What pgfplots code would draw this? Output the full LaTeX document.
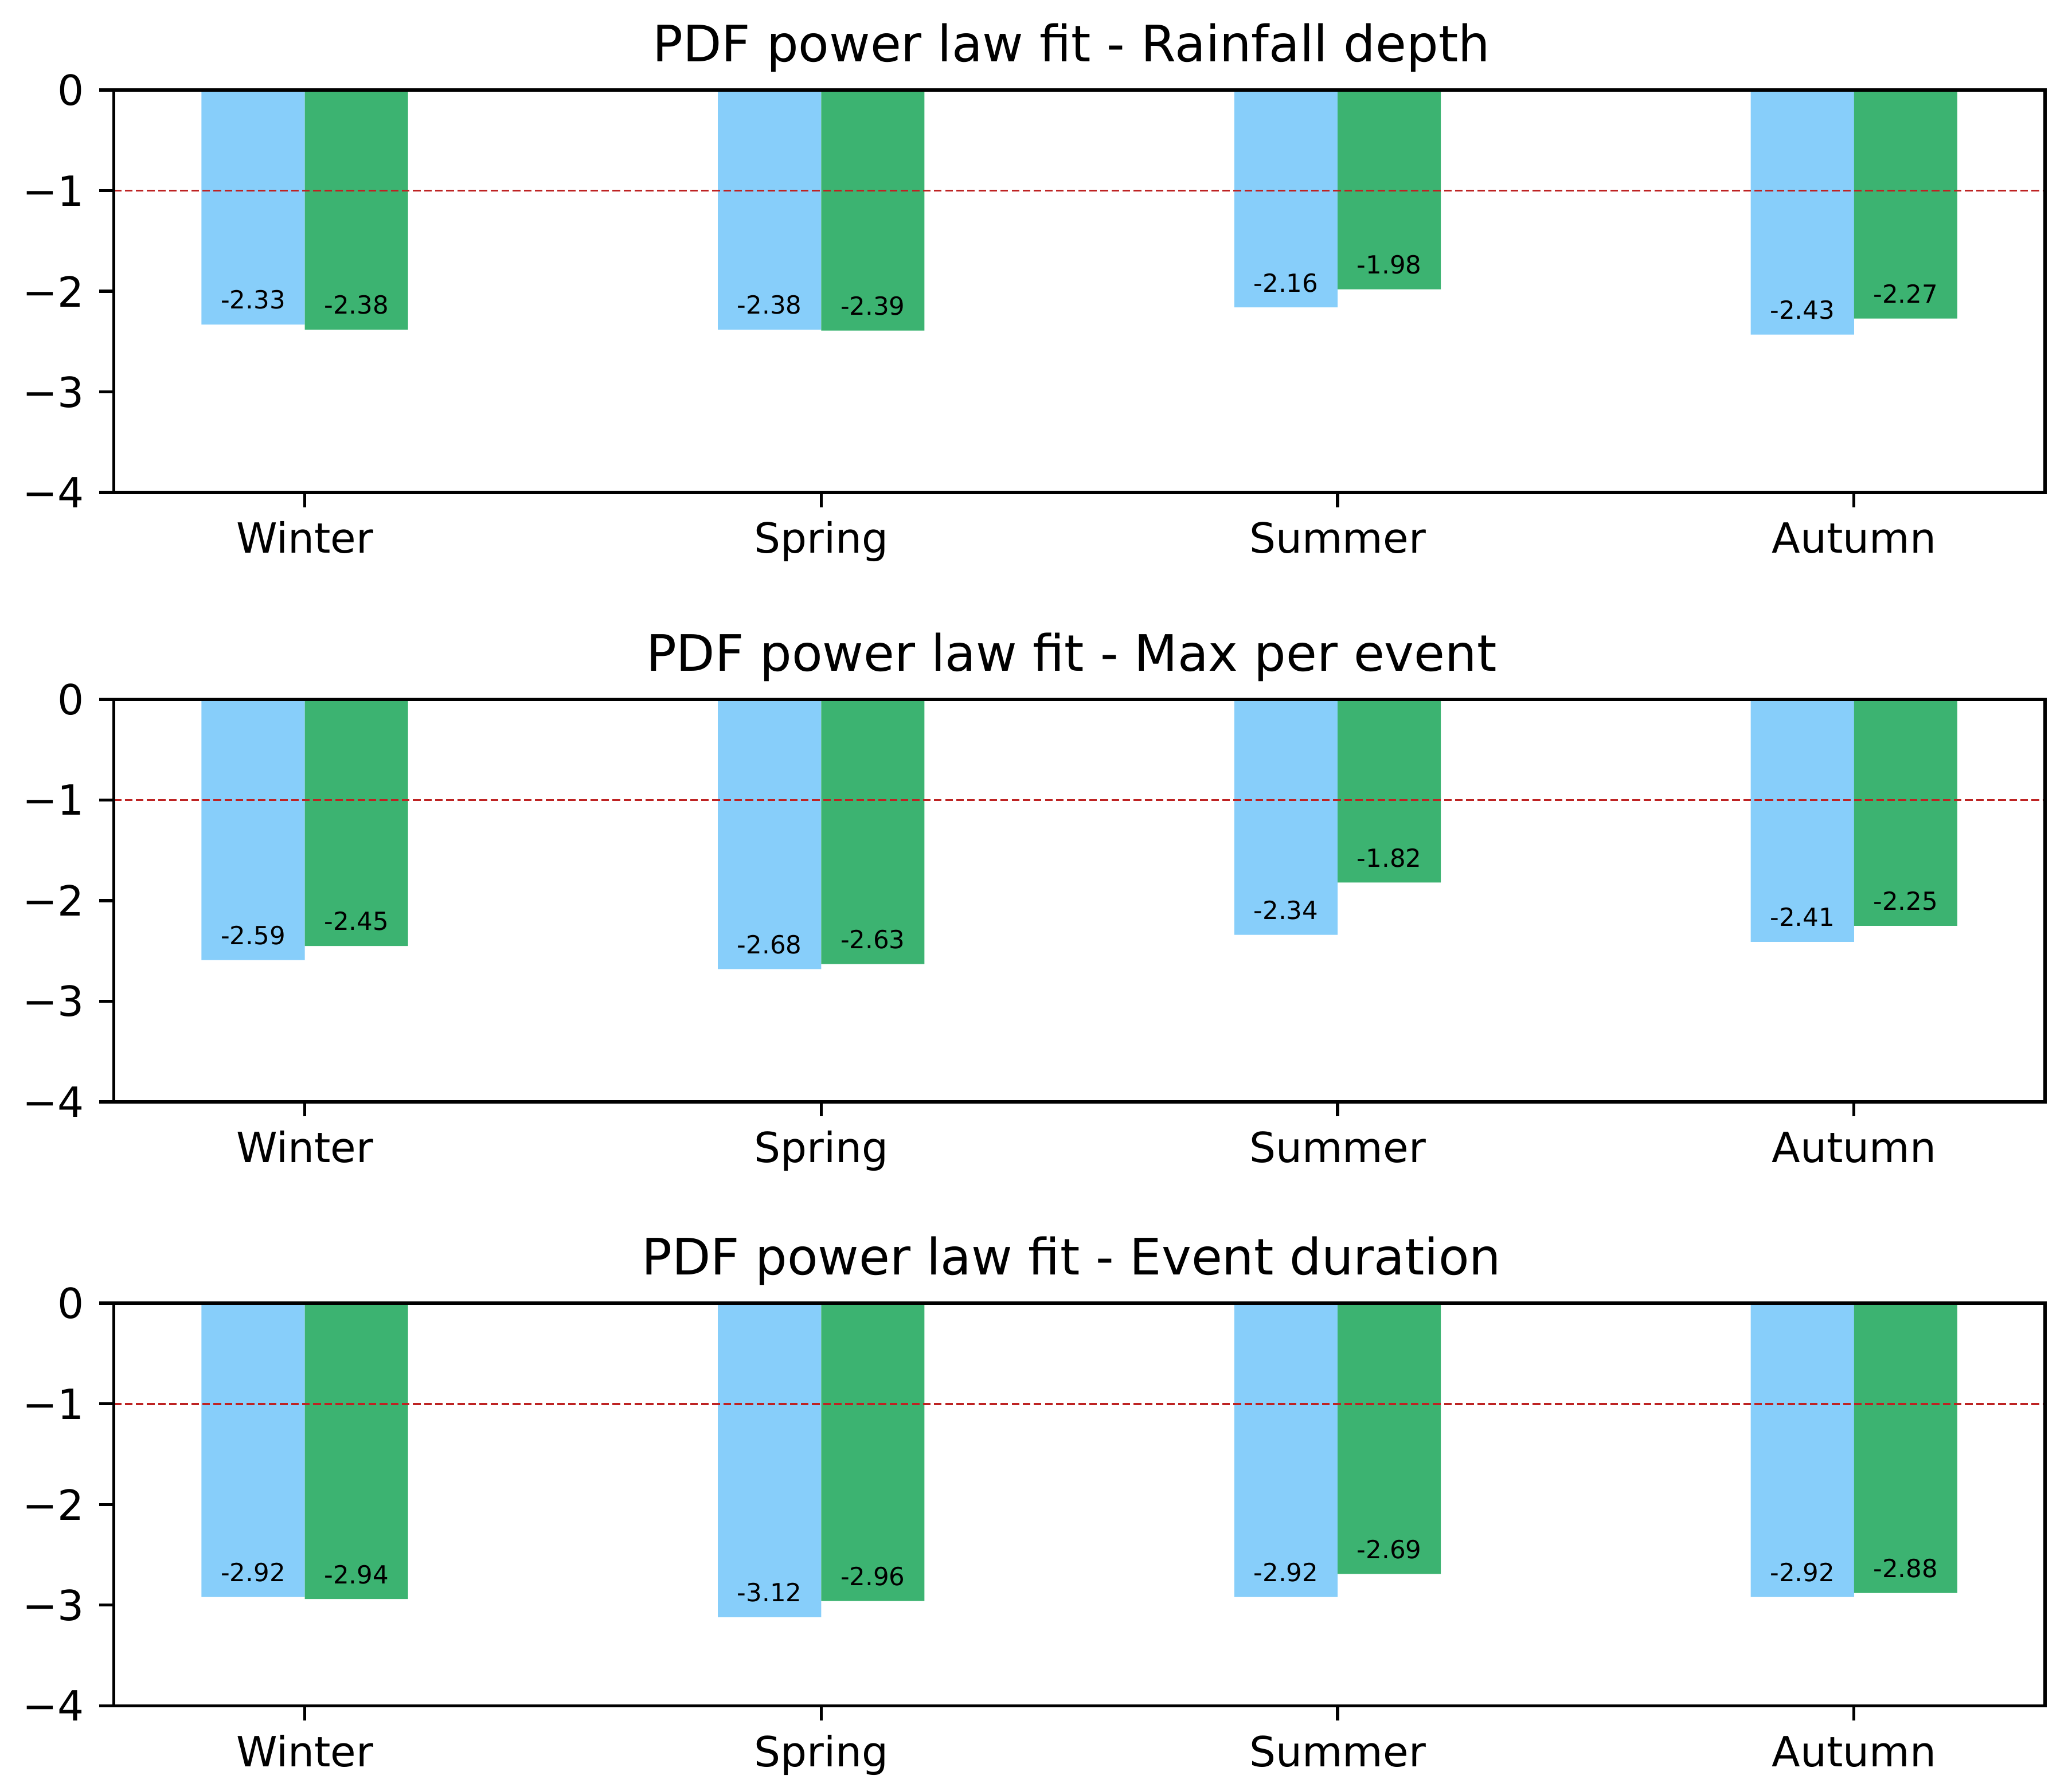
\documentclass[border=0pt]{standalone}
\usepackage{fontspec}
\setmainfont{DejaVu Sans}
\usepackage{pgfplots}
\usepackage{pgfplotstable}
\pgfplotsset{compat=1.18}

\definecolor{skyb}{HTML}{87CEFA}
\definecolor{seag}{HTML}{3CB371}
\definecolor{refred}{RGB}{190,35,35}

% x = season index, b = blue bars, g = green bars
\pgfplotstableread{
x b g
0 -2.33 -2.38
1 -2.38 -2.39
2 -2.16 -1.98
3 -2.43 -2.27
}\depth
\pgfplotstableread{
x b g
0 -2.59 -2.45
1 -2.68 -2.63
2 -2.34 -1.82
3 -2.41 -2.25
}\maxev
\pgfplotstableread{
x b g
0 -2.92 -2.94
1 -3.12 -2.96
2 -2.92 -2.69
3 -2.92 -2.88
}\dur

\pgfplotsset{
  panel/.style={
    scale only axis, width=557.5pt, height=116.2pt,
    anchor=south west,
    xmin=-0.37, xmax=3.37, ymin=-4, ymax=0,
    xtick={0,1,2,3}, xticklabels={Winter,Spring,Summer,Autumn},
    ytick={-4,-3,-2,-1,0}, yticklabels={−4,−3,−2,−1,0},
    xtick pos=left, ytick pos=left,
    tick align=outside, major tick length=4.2pt,
    tick style={black, line width=0.9pt},
    axis line style={line width=0.9pt},
    tick label style={font=\fontsize{12}{14}\selectfont},
    xticklabel style={anchor=base, inner sep=0pt, yshift=-13.3pt},
    yticklabel style={anchor=east, inner sep=0pt, xshift=-4.2pt},
    every axis title shift=0pt,
    title style={at={(0.5,1)}, anchor=base, yshift=8.2pt, xshift=-2.3pt,
      font=\fontsize{14.5}{17}\selectfont},
    axis on top, clip=false,
  },
  bars/.style={ybar, bar width=0.2, bar shift=0pt, draw=none, fill=#1},
  vals/.style={draw=none, mark=none, point meta=explicit symbolic,
    nodes near coords,
    every node near coord/.style={anchor=base, inner sep=0pt,
      font=\fontsize{7.2}{8}\selectfont, text=black}},
  refline/.style={refred, line width=0.6pt, dash pattern=on 2.2pt off 1pt},
}

\begin{document}
\begin{tikzpicture}
\path[use as bounding box] (0,0) rectangle (598.1pt,516.9pt);

\begin{axis}[panel, at={(32.82pt,374.7pt)}, title={PDF power law fit - Rainfall depth}]
\addplot[bars=skyb] table[x expr=\thisrow{x}-0.1, y=b] {\depth};
\addplot[bars=seag] table[x expr=\thisrow{x}+0.1, y=g] {\depth};
\addplot[refline] coordinates {(-0.37,-1) (3.37,-1)};
\addplot[vals] table[x expr=\thisrow{x}-0.1, y expr=\thisrow{b}+0.155, meta=b] {\depth};
\addplot[vals] table[x expr=\thisrow{x}+0.1, y expr=\thisrow{g}+0.155, meta=g] {\depth};
\end{axis}

\begin{axis}[panel, at={(32.82pt,198.8pt)}, title={PDF power law fit - Max per event}]
\addplot[bars=skyb] table[x expr=\thisrow{x}-0.1, y=b] {\maxev};
\addplot[bars=seag] table[x expr=\thisrow{x}+0.1, y=g] {\maxev};
\addplot[refline] coordinates {(-0.37,-1) (3.37,-1)};
\addplot[vals] table[x expr=\thisrow{x}-0.1, y expr=\thisrow{b}+0.155, meta=b] {\maxev};
\addplot[vals] table[x expr=\thisrow{x}+0.1, y expr=\thisrow{g}+0.155, meta=g] {\maxev};
\end{axis}

\begin{axis}[panel, at={(32.82pt,24.5pt)}, title={PDF power law fit - Event duration}]
\addplot[bars=skyb] table[x expr=\thisrow{x}-0.1, y=b] {\dur};
\addplot[bars=seag] table[x expr=\thisrow{x}+0.1, y=g] {\dur};
\addplot[refline] coordinates {(-0.37,-1) (3.37,-1)};
\addplot[vals] table[x expr=\thisrow{x}-0.1, y expr=\thisrow{b}+0.155, meta=b] {\dur};
\addplot[vals] table[x expr=\thisrow{x}+0.1, y expr=\thisrow{g}+0.155, meta=g] {\dur};
\end{axis}
\end{tikzpicture}
\end{document}
